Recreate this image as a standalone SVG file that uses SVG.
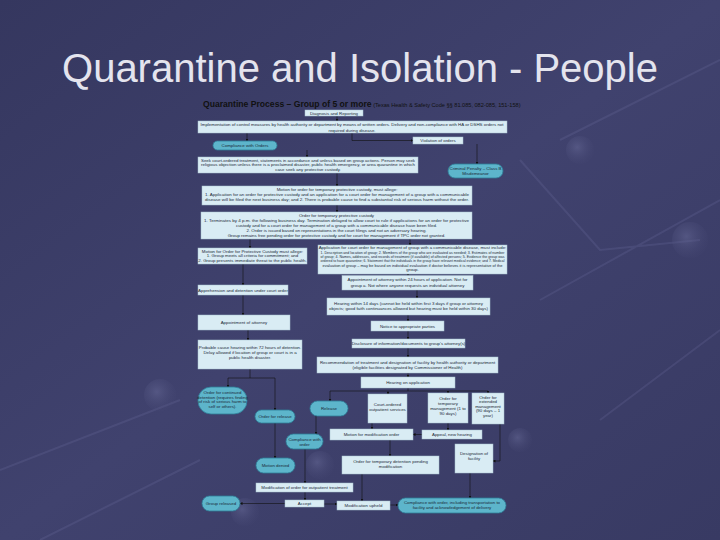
<svg xmlns="http://www.w3.org/2000/svg" width="720" height="540" viewBox="0 0 720 540">
<defs>
<linearGradient id="bg" x1="0" y1="0" x2="1" y2="1">
<stop offset="0" stop-color="#35375f"/>
<stop offset="0.5" stop-color="#40426e"/>
<stop offset="1" stop-color="#383a63"/>
</linearGradient>
<radialGradient id="orb" cx="0.4" cy="0.4" r="0.6">
<stop offset="0" stop-color="#6a6d9a" stop-opacity="0.5"/>
<stop offset="1" stop-color="#4a4c78" stop-opacity="0.1"/>
</radialGradient>
<marker id="ar" viewBox="0 0 6 6" refX="5" refY="3" markerWidth="3" markerHeight="3" markerUnits="userSpaceOnUse" orient="auto">
<path d="M0,0 L6,3 L0,6 z" fill="#111"/>
</marker>
<style>
.box{fill:#d9ecf4;stroke:#a9c2d0;stroke-width:0.5}
.pill{fill:#5db5cb;stroke:#2e7d98;stroke-width:0.8}
.t{font-family:"Liberation Sans",Arial,sans-serif;font-size:4.4px;fill:#1c2a38;text-anchor:middle}
.c{fill:none;stroke:#111;stroke-width:0.6}
.deco{fill:none;stroke:#8a8cc0;stroke-opacity:0.15;stroke-width:2}
</style>
</defs>
<rect width="720" height="540" fill="url(#bg)"/>
<g id="background-decoration">
<path class="deco" d="M560,140 L720,60 M540,300 L720,200 M600,420 L720,330 M0,470 L180,400 M40,540 L200,460 M520,160 L600,250 L700,240"/>
<circle cx="580" cy="150" r="14" fill="url(#orb)"/>
<circle cx="690" cy="240" r="18" fill="url(#orb)"/>
<circle cx="160" cy="395" r="16" fill="url(#orb)"/>
<circle cx="320" cy="465" r="14" fill="url(#orb)"/>
<circle cx="245" cy="512" r="14" fill="url(#orb)"/>
<circle cx="520" cy="440" r="12" fill="url(#orb)"/>
</g>
<text x="360" y="82" font-family="'Liberation Sans',Arial,sans-serif" font-size="40" fill="#e4e4ee" text-anchor="middle">Quarantine and Isolation - People</text>
<text x="203" y="107" font-family="'Liberation Sans',Arial,sans-serif" fill="#111"><tspan font-size="8.6" font-weight="bold">Quarantine Process – Group of 5 or more</tspan><tspan font-size="5.6"> (Texas Health &amp; Safety Code §§ 81.085, 082-085, 151-158)</tspan></text>

<g id="connectors">
<line class="c" x1="337" y1="116" x2="337" y2="121" marker-end="url(#ar)"/>
<line class="c" x1="247" y1="133" x2="247" y2="141" marker-end="url(#ar)"/>
<path class="c" d="M352,133 V140.5 H413" marker-end="url(#ar)"/>
<line class="c" x1="477" y1="144" x2="477" y2="164" marker-end="url(#ar)"/>
<line class="c" x1="307" y1="150" x2="307" y2="157" marker-end="url(#ar)"/>
<line class="c" x1="337" y1="173" x2="337" y2="186" marker-end="url(#ar)"/>
<line class="c" x1="337" y1="205" x2="337" y2="212" marker-end="url(#ar)"/>
<path class="c" d="M250,239 V248" marker-end="url(#ar)"/>
<path class="c" d="M410,239 V245" marker-end="url(#ar)"/>
<line class="c" x1="408" y1="273" x2="408" y2="275.5" marker-end="url(#ar)"/>
<line class="c" x1="243" y1="264" x2="243" y2="285" marker-end="url(#ar)"/>
<line class="c" x1="417" y1="290" x2="417" y2="298" marker-end="url(#ar)"/>
<line class="c" x1="243" y1="295" x2="243" y2="315" marker-end="url(#ar)"/>
<line class="c" x1="408" y1="315" x2="408" y2="321" marker-end="url(#ar)"/>
<line class="c" x1="408" y1="331" x2="408" y2="339" marker-end="url(#ar)"/>
<line class="c" x1="248" y1="330" x2="248" y2="340" marker-end="url(#ar)"/>
<line class="c" x1="408" y1="348" x2="408" y2="357" marker-end="url(#ar)"/>
<line class="c" x1="408" y1="373" x2="408" y2="377" marker-end="url(#ar)"/>
<path class="c" d="M250,369 V378 M228,378 H275"/>
<line class="c" x1="228" y1="378" x2="228" y2="387" marker-end="url(#ar)"/>
<line class="c" x1="275" y1="378" x2="275" y2="410" marker-end="url(#ar)"/>
<path class="c" d="M408,388 V391 M330,391 H488"/>
<line class="c" x1="330" y1="391" x2="330" y2="401" marker-end="url(#ar)"/>
<line class="c" x1="388" y1="391" x2="388" y2="394" marker-end="url(#ar)"/>
<line class="c" x1="448" y1="391" x2="448" y2="393" marker-end="url(#ar)"/>
<line class="c" x1="488" y1="391" x2="488" y2="393" marker-end="url(#ar)"/>
<line class="c" x1="316" y1="416" x2="316" y2="434" marker-end="url(#ar)"/>
<line class="c" x1="275" y1="423" x2="275" y2="458" marker-end="url(#ar)"/>
<line class="c" x1="372" y1="423" x2="372" y2="429" marker-end="url(#ar)"/>
<line class="c" x1="448" y1="423" x2="448" y2="430" marker-end="url(#ar)"/>
<path class="c" d="M422,434.5 H413" marker-end="url(#ar)"/>
<path class="c" d="M500,424 V461 H493" marker-end="url(#ar)"/>
<line class="c" x1="390" y1="440" x2="390" y2="456" marker-end="url(#ar)"/>
<line class="c" x1="305" y1="449" x2="305" y2="483" marker-end="url(#ar)"/>
<line class="c" x1="305" y1="492" x2="305" y2="500" marker-end="url(#ar)"/>
<line class="c" x1="285" y1="503.5" x2="240" y2="503.5" marker-end="url(#ar)"/>
<line class="c" x1="324" y1="504" x2="337" y2="504" marker-end="url(#ar)"/>
<line class="c" x1="362" y1="474" x2="362" y2="501" marker-end="url(#ar)"/>
<line class="c" x1="390" y1="505" x2="398" y2="505" marker-end="url(#ar)"/>
<line class="c" x1="470" y1="473" x2="470" y2="498" marker-end="url(#ar)"/>
</g>

<g id="diagnosis"><rect class="box" x="305" y="110" width="58" height="6"/><text class="t" x="334" y="114.6">Diagnosis and Reporting</text></g>
<g id="implementation"><rect class="box" x="198" y="121" width="309" height="12"/>
<text class="t" x="352" y="126" textLength="303" lengthAdjust="spacingAndGlyphs">Implementation of control measures by health authority or department by means of written orders.   Delivery and non-compliance with HA or DSHS orders not</text>
<text class="t" x="352" y="131.5">required during disease.</text></g>
<g id="compliance-orders"><rect class="pill" x="213" y="141" width="64" height="9" rx="4.5"/><text class="t" x="245" y="147">Compliance with Orders</text></g>
<g id="violation"><rect class="box" x="413" y="137" width="50" height="7"/><text class="t" x="438" y="142">Violation of orders</text></g>
<g id="seek-court"><rect class="box" x="198" y="157" width="220" height="16"/>
<text class="t" x="308" y="161.5" textLength="214" lengthAdjust="spacingAndGlyphs">Seek court-ordered treatment, statements in accordance and unless based on group actions. Person may seek</text>
<text class="t" x="308" y="166.3" textLength="214" lengthAdjust="spacingAndGlyphs">religious objection unless there is a proclaimed disaster, public health emergency, or area quarantine in which</text>
<text class="t" x="308" y="171.1">case seek any protective custody.</text></g>
<g id="criminal-penalty"><rect class="pill" x="448" y="164" width="55" height="14" rx="7"/><text class="t" x="475.5" y="170">Criminal Penalty – Class B</text><text class="t" x="475.5" y="175">Misdemeanor</text></g>
<g id="motion-tpc"><rect class="box" x="202" y="186" width="270" height="19"/>
<text class="t" x="337" y="191">Motion for order for temporary protective custody, must allege:</text>
<text class="t" x="337" y="196" textLength="264" lengthAdjust="spacingAndGlyphs">1. Application for an order for protective custody and an application for a court order for management of a group with a communicable</text>
<text class="t" x="337" y="201" textLength="264" lengthAdjust="spacingAndGlyphs">disease will be filed the next business day; and 2. There is probable cause to find a substantial risk of serious harm without the order.</text></g>
<g id="order-tpc"><rect class="box" x="201" y="212" width="271" height="27"/>
<text class="t" x="336.5" y="217">Order for temporary protective custody</text>
<text class="t" x="336.5" y="222" textLength="265" lengthAdjust="spacingAndGlyphs">1. Terminates by 4 p.m. the following business day. Termination delayed to allow court to rule if applications for an order for protective</text>
<text class="t" x="336.5" y="227">custody and for a court order for management of a group with a communicable disease have been filed.</text>
<text class="t" x="336.5" y="232">2. Order is issued based on representations in the court filings and not an adversary hearing.</text>
<text class="t" x="336.5" y="237">Group remains free pending order for protective custody and for court for management if TPC order not granted.</text></g>
<g id="motion-opc"><rect class="box" x="198" y="248" width="109" height="16"/>
<text class="t" x="252.5" y="252.5">Motion for Order for Protective Custody must allege:</text>
<text class="t" x="252.5" y="257">1. Group meets all criteria for commitment; and</text>
<text class="t" x="252.5" y="261.5">2. Group presents immediate threat to the public health.</text></g>
<g id="application"><rect class="box" x="318" y="245" width="189" height="29"/>
<text class="t" x="412.5" y="249.3">Application for court order for management of group with a communicable disease, must include:</text>
<text class="t" x="412.5" y="253.6" textLength="184" lengthAdjust="spacingAndGlyphs">1. Description and location of group; 2. Members of the group who are evaluated as needed; 3. Estimates of number</text>
<text class="t" x="412.5" y="257.9" textLength="184" lengthAdjust="spacingAndGlyphs">of group; 4. Names, addresses, and records of treatment (if available) of affected persons; 5. Evidence the group was</text>
<text class="t" x="412.5" y="262.2" textLength="184" lengthAdjust="spacingAndGlyphs">ordered to have quarantine; 6. Statement that the individuals in the group have relevant medical evidence; and 7. Medical</text>
<text class="t" x="412.5" y="266.5" textLength="180" lengthAdjust="spacingAndGlyphs">evaluation of group – may be based on individual evaluation if doctor believes it is representative of the</text>
<text class="t" x="412.5" y="270.8">group.</text></g>
<g id="attorney-24h"><rect class="box" x="342" y="275.5" width="131" height="14.5"/>
<text class="t" x="407.5" y="281">Appointment of attorney within 24 hours of application. Not for</text>
<text class="t" x="407.5" y="286.5">group a. Not where anyone requests an individual attorney</text></g>
<g id="apprehension"><rect class="box" x="198" y="285" width="90" height="10"/><text class="t" x="243" y="291.5">Apprehension and detention under court order</text></g>
<g id="hearing-14"><rect class="box" x="327" y="298" width="163" height="17"/>
<text class="t" x="408.5" y="304.5">Hearing within 14 days (cannot be held within first 3 days if group or attorney</text>
<text class="t" x="408.5" y="310">objects; good faith continuances allowed but hearing must be held within 30 days)</text></g>
<g id="appointment-attorney"><rect class="box" x="198" y="315" width="92" height="15"/><text class="t" x="244" y="324">Appointment of attorney</text></g>
<g id="notice"><rect class="box" x="371" y="321" width="73" height="10"/><text class="t" x="407.5" y="327.5">Notice to appropriate parties</text></g>
<g id="disclosure"><rect class="box" x="352" y="339" width="113" height="9"/><text class="t" x="408.5" y="345">Disclosure of information/documents to group's attorney(s)</text></g>
<g id="probable-cause"><rect class="box" x="198" y="340" width="104" height="29"/>
<text class="t" x="250" y="349">Probable cause hearing within 72 hours of detention.</text>
<text class="t" x="250" y="354">Delay allowed if location of group or court is in a</text>
<text class="t" x="250" y="359">public health disaster.</text></g>
<g id="recommendation"><rect class="box" x="317" y="357" width="181" height="16"/>
<text class="t" x="407.5" y="363.5">Recommendation of treatment and designation of facility by health authority or department</text>
<text class="t" x="407.5" y="368.5">(eligible facilities designated by Commissioner of Health)</text></g>
<g id="hearing-application"><rect class="box" x="361" y="377" width="94" height="11"/><text class="t" x="408" y="384">Hearing on application</text></g>
<g id="continued-detention"><rect class="pill" x="198" y="387" width="49" height="27" rx="13"/>
<text class="t" x="222.5" y="394" font-size="3.8">Order for continued</text>
<text class="t" x="222.5" y="398.6" font-size="3.8">detention (requires finding</text>
<text class="t" x="222.5" y="403.2" font-size="3.8">of risk of serious harm to</text>
<text class="t" x="222.5" y="407.8" font-size="3.8">self or others).</text></g>
<g id="order-release"><rect class="pill" x="255" y="410" width="40" height="13" rx="6.5"/><text class="t" x="275" y="418">Order for release</text></g>
<g id="release"><rect class="pill" x="310" y="401" width="38" height="15" rx="7.5"/><text class="t" x="329" y="410">Release</text></g>
<g id="outpatient"><rect class="box" x="368" y="394" width="39" height="29"/><text class="t" x="387.5" y="406">Court-ordered</text><text class="t" x="387.5" y="411">outpatient services</text></g>
<g id="temp-management"><rect class="box" x="428" y="393" width="40" height="30"/>
<text class="t" x="448" y="399.5" font-size="5">Order for</text>
<text class="t" x="448" y="404.5">temporary</text>
<text class="t" x="448" y="409.5">management (1 to</text>
<text class="t" x="448" y="414.5">90 days)</text></g>
<g id="extended-management"><rect class="box" x="472" y="393" width="32" height="31"/>
<text class="t" x="488" y="398.5">Order for</text>
<text class="t" x="488" y="403">extended</text>
<text class="t" x="488" y="407.5">management</text>
<text class="t" x="488" y="412">(90 days – 1</text>
<text class="t" x="488" y="416.5">year)</text></g>
<g id="motion-modification"><rect class="box" x="330" y="429" width="83" height="11"/><text class="t" x="371.5" y="436">Motion for modification order</text></g>
<g id="appeal"><rect class="box" x="422" y="430" width="60" height="9"/><text class="t" x="452" y="436">Appeal, new hearing</text></g>
<g id="compliance-order"><rect class="pill" x="286" y="434" width="37" height="15" rx="7.5"/><text class="t" x="304.5" y="440.5">Compliance with</text><text class="t" x="304.5" y="445.5">order</text></g>
<g id="designation"><rect class="box" x="455" y="444" width="38" height="29"/><text class="t" x="474" y="455">Designation of</text><text class="t" x="474" y="460">facility</text></g>
<g id="motion-denied"><rect class="pill" x="256" y="458" width="39" height="15" rx="7.5"/><text class="t" x="275.5" y="467">Motion denied</text></g>
<g id="temp-detention"><rect class="box" x="342" y="456" width="97" height="18"/><text class="t" x="390.5" y="463">Order for temporary detention pending</text><text class="t" x="390.5" y="468">modification</text></g>
<g id="modification-order"><rect class="box" x="256" y="483" width="97" height="9"/><text class="t" x="304.5" y="489">Modification of order for outpatient treatment</text></g>
<g id="group-released"><rect class="pill" x="202" y="496" width="38" height="15" rx="7.5"/><text class="t" x="221" y="505">Group released</text></g>
<g id="accept"><rect class="box" x="285" y="500" width="39" height="7"/><text class="t" x="304.5" y="505">Accept</text></g>
<g id="modification-upheld"><rect class="box" x="337" y="501" width="53" height="9"/><text class="t" x="363.5" y="507">Modification upheld</text></g>
<g id="compliance-transport"><rect class="pill" x="398" y="498" width="108" height="15" rx="7.5"/>
<text class="t" x="452" y="504">Compliance with order, including transportation to</text>
<text class="t" x="452" y="509">facility and acknowledgement of delivery</text></g>
</svg>
